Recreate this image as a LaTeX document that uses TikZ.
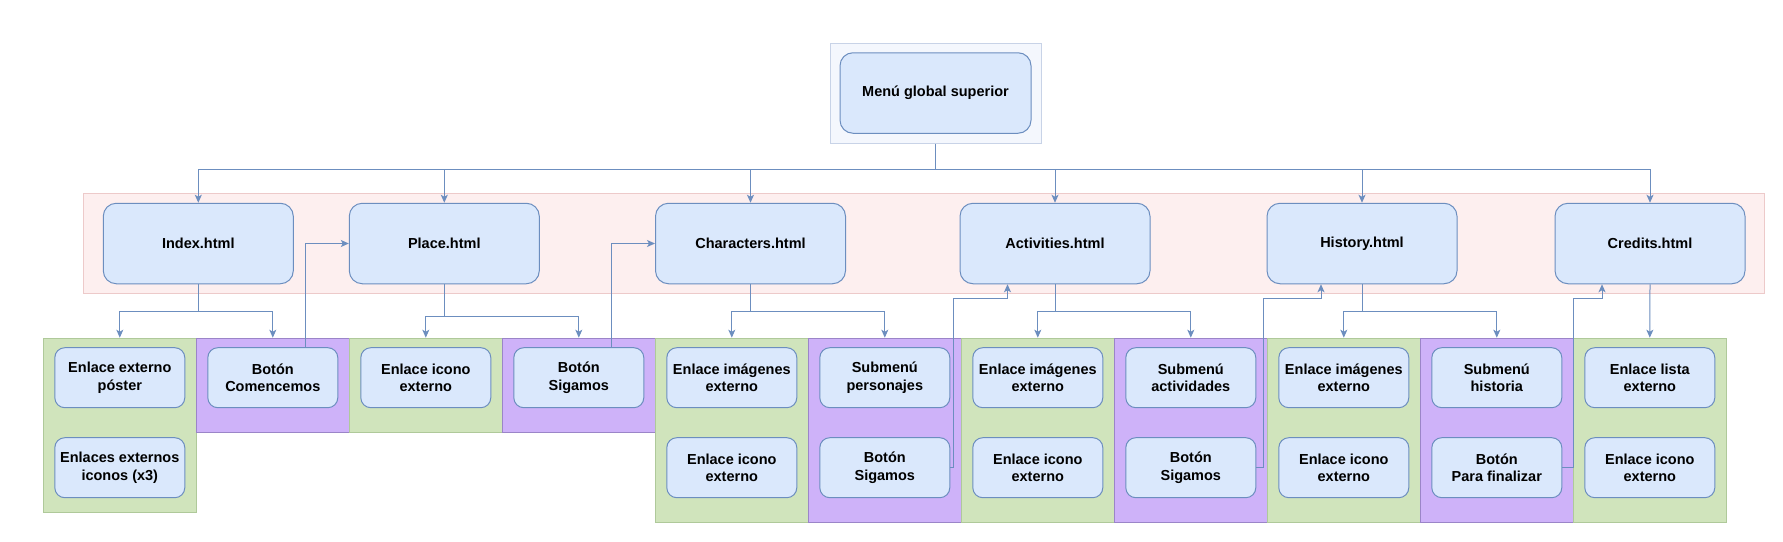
\documentclass[tikz,border=0pt]{standalone}
\usepackage{fontspec}
\setmainfont{Liberation Sans}
\usetikzlibrary{arrows.meta}

\definecolor{boxfill}{HTML}{DAE8FC}
\definecolor{boxline}{HTML}{6C8EBF}
\definecolor{groupfill}{HTML}{F4F7FD}
\definecolor{groupline}{HTML}{C8D3E7}
\definecolor{bandfill}{HTML}{FDEFEF}
\definecolor{bandline}{HTML}{EDCACA}
\definecolor{greenfill}{HTML}{D0E4BC}
\definecolor{greenline}{HTML}{AFC99A}
\definecolor{purplefill}{HTML}{CEB2F9}
\definecolor{purpleline}{HTML}{9B85C8}

\tikzset{
    boxfont/.style={font=\bfseries\fontsize{14.5}{17.3}\selectfont},
    page/.style={boxfont, draw=boxline, fill=boxfill, line width=1pt,
        rounded corners=13pt, minimum width=190pt, minimum height=80.5pt,
        align=center, inner sep=2pt},
    item/.style={page, rounded corners=10pt, minimum width=130pt,
        minimum height=60pt},
    greencol/.style={draw=greenline, fill=greenfill, line width=1pt,
        minimum width=153pt, anchor=north, inner sep=0pt},
    purplecol/.style={greencol, draw=purpleline, fill=purplefill},
    link/.style={draw=boxline, line width=1pt,
        -{Stealth[length=8pt,width=7pt,inset=2pt]}},
}

\begin{document}
\begin{tikzpicture}[x=1pt, y=-1pt]
    \useasboundingbox (0,0) rectangle (1783,541);

    % TOP: global menu
    \node[draw=groupline, fill=groupfill, line width=1pt,
        minimum width=211pt, minimum height=100pt] (menugroup) at (935.5,93) {};
    \node[page, minimum width=191pt] (menu) at (935.5,93) {Menú global superior};

    % MIDDLE: pages
    \draw[fill=bandfill, draw=bandline, line width=1pt]
        (83.3,193.3) rectangle (1764,293.3);
    \node[page] (index) at (198.3,243.5) {Index.html};
    \node[page] (place) at (444.3,243.5) {Place.html};
    \node[page] (characters) at (750.5,243.5) {Characters.html};
    \node[page] (activities) at (1055,243.5) {Activities.html};
    \node[page] (history) at (1362,243.5) {History.html};
    \node[page] (credits) at (1650,243.5) {Credits.html};

    % BOTTOM: columns of links
    \node[greencol, minimum height=174.3pt] (col1) at (119.8,337.7) {};
    \node[purplecol, minimum height=94.3pt] (col2) at (272.8,337.7) {};
    \node[greencol, minimum height=94.3pt] (col3) at (425.8,337.7) {};
    \node[purplecol, minimum height=94.3pt] (col4) at (578.8,337.7) {};
    \node[greencol, minimum height=184pt] (col5) at (731.8,337.7) {};
    \node[purplecol, minimum height=184pt] (col6) at (884.8,337.7) {};
    \node[greencol, minimum height=184pt] (col7) at (1037.8,337.7) {};
    \node[purplecol, minimum height=184pt] (col8) at (1190.8,337.7) {};
    \node[greencol, minimum height=184pt] (col9) at (1343.8,337.7) {};
    \node[purplecol, minimum height=184pt] (col10) at (1496.8,337.7) {};
    \node[greencol, minimum height=184pt] (col11) at (1649.8,337.7) {};

    % Index.html
    \node[item] (poster) at (119.8,377.7) {Enlace externo\\póster};
    \node[item] (iconsx3) at (119.8,467.7) {Enlaces externos\\iconos (x3)};
    \node[item] (comencemos) at (272.8,377.7) {Botón\\Comencemos};
    % Place.html
    \node[item] (placeicon) at (425.8,377.7) {Enlace icono\\externo};
    \node[item] (sigamosplace) at (578.8,377.7) {Botón\\Sigamos};
    % Characters.html
    \node[item] (charimg) at (731.8,377.7) {Enlace imágenes\\externo};
    \node[item] (charicon) at (731.8,467.7) {Enlace icono\\externo};
    \node[item] (personajes) at (884.8,377.7) {Submenú\\personajes};
    \node[item] (sigamoschar) at (884.8,467.7) {Botón\\Sigamos};
    % Activities.html
    \node[item] (actimg) at (1037.8,377.7) {Enlace imágenes\\externo};
    \node[item] (acticon) at (1037.8,467.7) {Enlace icono\\externo};
    \node[item] (actividades) at (1190.8,377.7) {Submenú\\actividades};
    \node[item] (sigamosact) at (1190.8,467.7) {Botón\\Sigamos};
    % History.html
    \node[item] (histimg) at (1343.8,377.7) {Enlace imágenes\\externo};
    \node[item] (histicon) at (1343.8,467.7) {Enlace icono\\externo};
    \node[item] (historia) at (1496.8,377.7) {Submenú\\historia};
    \node[item] (finalizar) at (1496.8,467.7) {Botón\\Para finalizar};
    % Credits.html
    \node[item] (creditlist) at (1649.8,377.7) {Enlace lista\\externo};
    \node[item] (crediticon) at (1649.8,467.7) {Enlace icono\\externo};

    % Menu to pages
    \coordinate (hub) at (935.5,169);
    \draw[link] (menugroup.south) -- (hub) -| (index.north);
    \draw[link] (hub) -| (place.north);
    \draw[link] (hub) -| (characters.north);
    \draw[link] (hub) -| (activities.north);
    \draw[link] (hub) -| (history.north);
    \draw[link] (hub) -| (credits.north);

    % Pages to their columns
    \coordinate (indexfork) at (198.3,311);
    \coordinate (placefork) at (444.3,316);
    \coordinate (charfork) at (750.5,311);
    \coordinate (actfork) at (1055,311);
    \coordinate (histfork) at (1362,311);
    \draw[link] (index.south) -- (indexfork) -| (col1.north);
    \draw[link] (indexfork) -| (col2.north);
    \draw[link] (place.south) -- (placefork) -| (col3.north);
    \draw[link] (placefork) -| (col4.north);
    \draw[link] (characters.south) -- (charfork) -| (col5.north);
    \draw[link] (charfork) -| (col6.north);
    \draw[link] (activities.south) -- (actfork) -| (col7.north);
    \draw[link] (actfork) -| (col8.north);
    \draw[link] (history.south) -- (histfork) -| (col9.north);
    \draw[link] (histfork) -| (col10.north);
    \draw[link] (credits.south) -- (col11.north);

    % Buttons back to the next page
    \draw[link] ([xshift=32.5pt]comencemos.north) |- (place.west);
    \draw[link] ([xshift=32.5pt]sigamosplace.north) |- (characters.west);
    \coordinate (turnact) at (953.3,298.3);
    \coordinate (turnhist) at (1263.6,298.3);
    \coordinate (turncred) at (1573.3,298.3);
    \draw[link] (sigamoschar.east) -| (turnact) -| ([xshift=-47.5pt]activities.south);
    \draw[link] (sigamosact.east) -| (turnhist) -| ([xshift=-41pt]history.south);
    \draw[link] (finalizar.east) -| (turncred) -| ([xshift=-48pt]credits.south);
\end{tikzpicture}
\end{document}
